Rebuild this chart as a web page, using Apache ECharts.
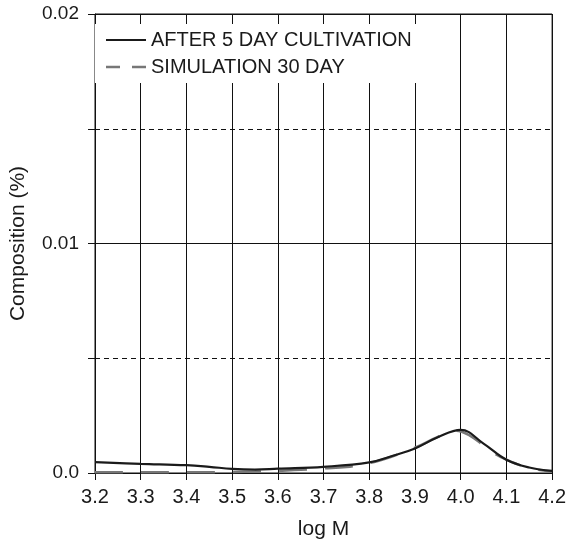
<!DOCTYPE html>
<html>
<head>
<meta charset="utf-8">
<script src="https://cdn.jsdelivr.net/npm/echarts@6/dist/echarts.min.js"></script>
<style>html,body{margin:0;padding:0;background:#fff}#c{width:569px;height:545px}</style>
</head>
<body>
<div id="c"></div>
<script>
var seriesNames = ['AFTER 5 DAY CULTIVATION', 'SIMULATION 30 DAY'];
var cultX = [3.20, 3.30, 3.40, 3.45, 3.50, 3.55, 3.60, 3.70, 3.80, 3.85, 3.90, 3.95, 4.00, 4.05, 4.10, 4.15, 4.20];
var cultY = [0.00047, 0.00040, 0.00034, 0.00027, 0.00018, 0.00015, 0.00019, 0.00027, 0.00046, 0.00074, 0.00107, 0.00156, 0.00188, 0.00128, 0.00058, 0.00024, 0.00009];
var simX = [3.20, 3.30, 3.40, 3.50, 3.55, 3.60, 3.65, 3.70, 3.75, 3.80, 3.85, 3.90, 3.95, 3.99, 4.02, 4.05, 4.07, 4.10, 4.15, 4.20];
var simY = [0.00003, 0.00003, 0.00003, 0.00004, 0.00006, 0.00010, 0.00014, 0.00020, 0.00026, 0.00043, 0.00072, 0.00110, 0.00157, 0.00184, 0.00163, 0.00120, 0.00090, 0.00058, 0.00022, 0.00007];
var xTicks = ['3.2','3.3','3.4','3.5','3.6','3.7','3.8','3.9','4.0','4.1','4.2'];
var yLabels = {'0': '0.0', '0.01': '0.01', '0.02': '0.02'};

function pairs(xs, ys){ return xs.map(function(x,i){return [x, ys[i]];}); }

var font = "'Liberation Sans', Arial, sans-serif";
var chart = echarts.init(document.getElementById('c'));
chart.setOption({
  animation: false,
  backgroundColor: '#fff',
  grid: {left: 92, right: 15, top: 14, bottom: 71, show: true, borderColor: '#111', borderWidth: 1, backgroundColor: 'transparent'},
  legend: {
    show: true,
    orient: 'vertical', left: 95, top: 24,
    padding: [6, 15, 6, 11],
    backgroundColor: '#fff',
    itemWidth: 40, itemHeight: 20, itemGap: 7,
    symbolKeepAspect: true,
    textStyle: {fontFamily: font, fontSize: 20, color: '#1a1a1a'},
    data: [
      {name: seriesNames[0], icon: 'path://M0,0H40V2.2H0Z', itemStyle: {color: '#1a1a1a'}},
      {name: seriesNames[1], icon: 'path://M0,0H14V2.5H0Z M26,0H40V2.5H26Z', itemStyle: {color: '#777'}}
    ]
  },
  xAxis: {
    type: 'value', min: 3.2, max: 4.2, interval: 0.1,
    name: 'log M', nameLocation: 'middle', nameGap: 46,
    nameTextStyle: {fontFamily: font, fontSize: 21, color: '#1a1a1a'},
    axisLine: {show: true, onZero: false, lineStyle: {color: '#111', width: 1}},
    axisTick: {show: true, length: 7, inside: false, lineStyle: {color: '#111'}},
    axisLabel: {fontFamily: font, fontSize: 20, color: '#1a1a1a', margin: 14, showMinLabel: true, showMaxLabel: true,
      formatter: function(v){ var i = Math.round((v - 3.2) * 10); return xTicks[i] || ''; }},
    splitLine: {show: true, lineStyle: {color: '#111', width: 1, type: 'solid'}}
  },
  yAxis: [{
    type: 'value', min: 0, max: 0.02, interval: 0.005,
    name: 'Composition (%)', nameLocation: 'middle', nameGap: 66,
    nameTextStyle: {fontFamily: font, fontSize: 21, color: '#1a1a1a'},
    axisLine: {show: true, lineStyle: {color: '#111', width: 1}},
    axisTick: {show: true, length: 7, lineStyle: {color: '#111'}},
    axisLabel: {fontFamily: font, fontSize: 19, color: '#1a1a1a', margin: 16,
      formatter: function(v){ var k = String(Math.round(v * 1000) / 1000); return yLabels[k] !== undefined ? yLabels[k] : ''; }},
    splitLine: {show: true, lineStyle: {color: '#111', width: 1, type: [5, 4]}}
  }, {
    type: 'value', min: 0, max: 0.02, interval: 0.01, position: 'left',
    axisLine: {show: false}, axisTick: {show: false}, axisLabel: {show: false},
    splitLine: {show: true, lineStyle: {color: '#111', width: 1, type: 'solid'}}
  }],
  series: [
    {name: seriesNames[0], type: 'line', data: pairs(cultX, cultY), smooth: 0.4, symbol: 'none', z: 4,
     lineStyle: {color: '#1a1a1a', width: 2.2}, itemStyle: {color: '#1a1a1a'}},
    {name: seriesNames[1], type: 'line', data: pairs(simX, simY), smooth: 0.4, symbol: 'none', z: 3,
     lineStyle: {color: '#777', width: 2.5, type: [28, 18]}, itemStyle: {color: '#777'}}
  ]
});
</script>
</body>
</html>
